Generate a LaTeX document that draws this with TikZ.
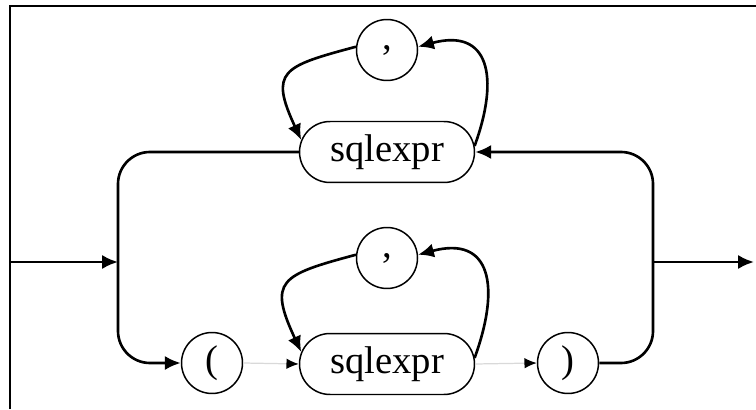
\documentclass[tikz,border=0pt]{standalone}
\usepackage{fontspec}
\setmainfont{Liberation Serif}
\usetikzlibrary{arrows.meta,shapes.misc}

\begin{document}
\begin{tikzpicture}[x=0.02cm, y=0.02cm,
    line width=1.5pt,
    >={Latex[length=9pt,width=8pt]},
    nonterm/.style = {
      draw,
      rounded rectangle,
      line width=0.85pt,
      inner sep=0pt,
      minimum width=3.5cm,
      minimum height=1.22cm,
      font=\fontsize{22}{26}\selectfont
    },
    term/.style = {
      draw,
      circle,
      line width=0.85pt,
      inner sep=0pt,
      minimum size=1.22cm,
      font=\fontsize{22}{26}\selectfont
    },
    faint/.style = {
      draw=gray!30,
      line width=0.7pt,
      -{Latex[black,length=7pt,width=6pt]}
    },
    loopright/.style = {->, out=70, in=15, looseness=1.65},
    loopleft/.style = {->, out=195, in=115, looseness=1.8}
  ]
  \useasboundingbox (0,0) rectangle (756,409);
  \draw[line width=1.2pt] (10,0) -- (10,403) -- (756,403);

  \coordinate (in) at (10,147);
  \coordinate (out) at (754,147);
  \coordinate (jl) at (118,147);
  \coordinate (jr) at (653,147);

  % upper branch
  \node[nonterm] (exprtop) at (387,257) {sqlexpr};
  \node[term] (commatop) at (387,359) {,};

  % lower branch
  \node[term] (lpar) at (212,46) {(};
  \node[nonterm] (exprbot) at (387,45) {sqlexpr};
  \node[term] (commabot) at (387,151) {,};
  \node[term] (rpar) at (568,46) {)};

  \draw[->] (in) -- (jl);
  \draw[->] (jr) -- (out);

  \draw[->, rounded corners=0.64cm] (exprtop.west) -| (jl) |- (lpar.west);
  \draw[->, rounded corners=0.64cm] (rpar.east) -| (jr) |- (exprtop.east);

  \draw[faint] (lpar.east) -- (exprbot.west);
  \draw[faint] (exprbot.east) -- (rpar.west);

  % repetition loops
  \draw[loopright] (exprtop.4) to (commatop.6);
  \draw[loopleft] (commatop.174) to (exprtop.172);
  \draw[loopright] (exprbot.4) to (commabot.6);
  \draw[loopleft] (commabot.174) to (exprbot.172);
\end{tikzpicture}
\end{document}
